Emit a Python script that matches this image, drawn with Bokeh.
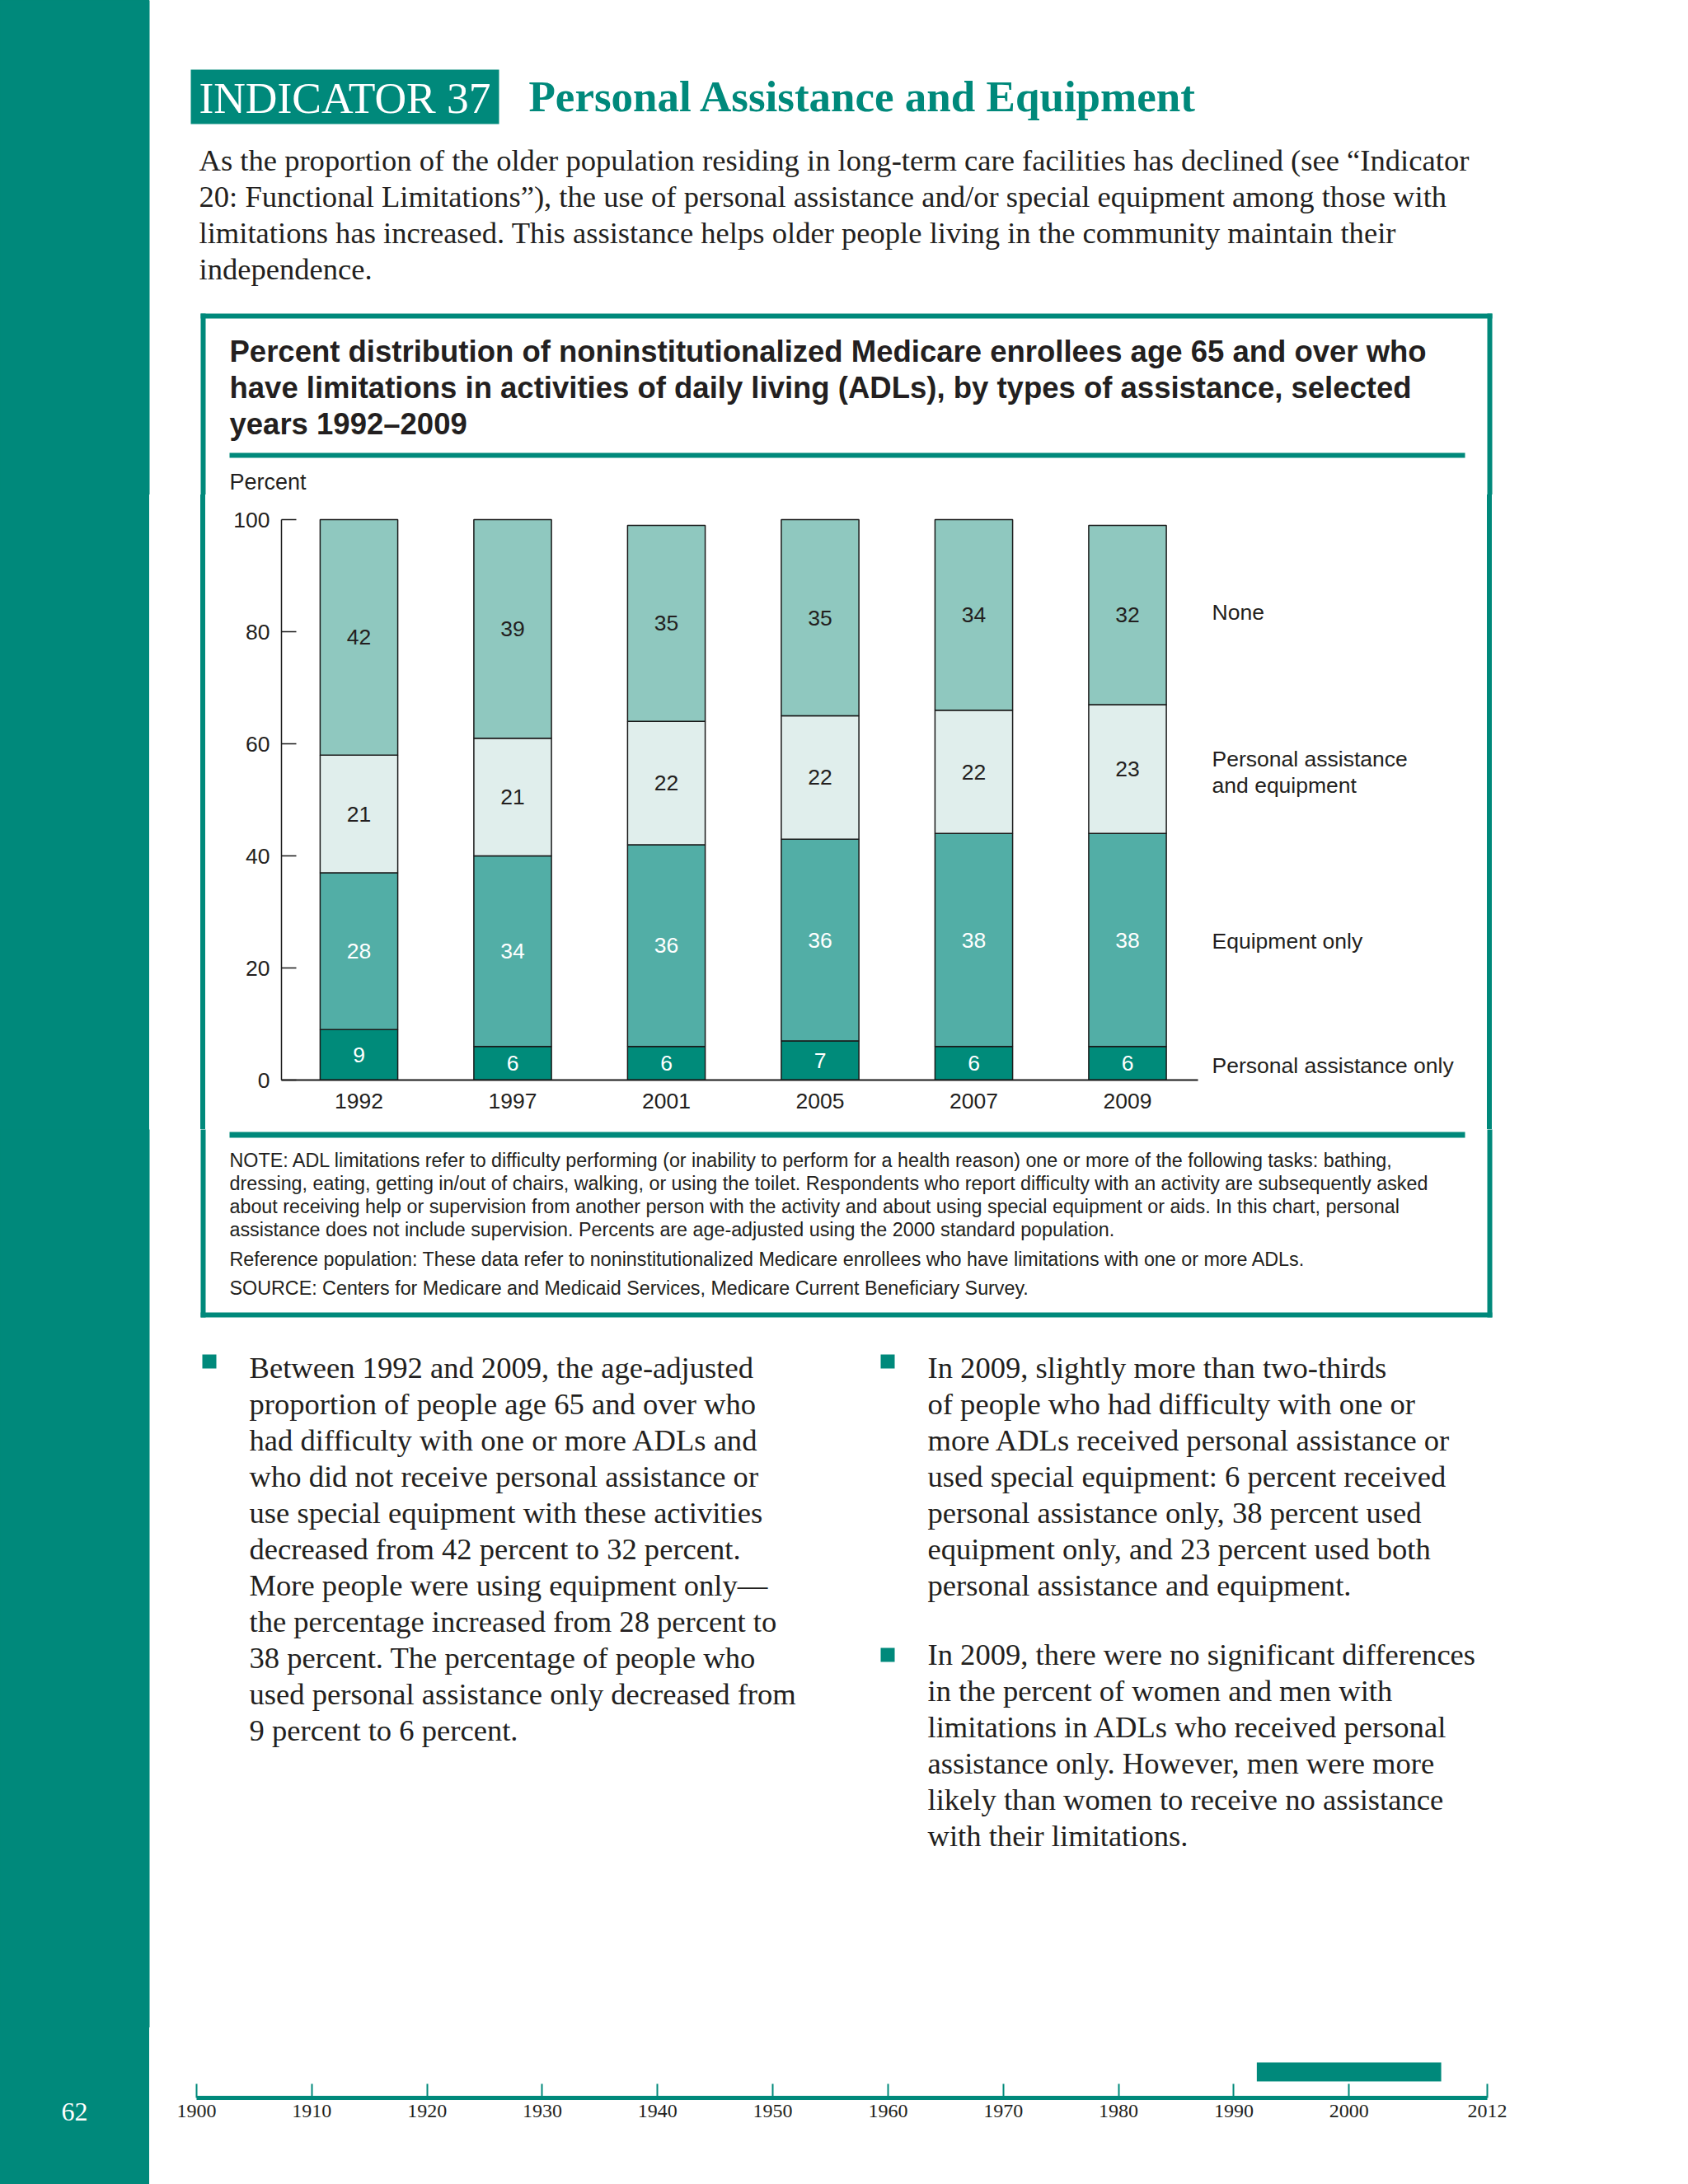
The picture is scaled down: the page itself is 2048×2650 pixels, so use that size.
from bokeh.plotting import figure
from bokeh.models import Range1d, ColumnDataSource, FixedTicker, Div
from bokeh.layouts import column, row
from bokeh.core.properties import value
from bokeh.embed import file_html
from bokeh.resources import INLINE
import numpy as np

# ---------------- data ----------------
years = ["1992", "1997", "2001", "2005", "2007", "2009"]
personal_only = [9, 6, 6, 7, 6, 6]
equipment_only = [28, 34, 36, 36, 38, 38]
both = [21, 21, 22, 22, 22, 23]
none = [42, 39, 35, 35, 34, 32]
series_keys = ["personal_only", "equipment_only", "both", "none"]
series_names = ["Personal assistance only", "Equipment only",
                "Personal assistance\nand equipment", "None"]
y_ticks = [0, 20, 40, 60, 80, 100]

timeline_ticks = [1900, 1910, 1920, 1930, 1940, 1950, 1960, 1970, 1980, 1990, 2000, 2012]
timeline_span = [1992, 2008]

# ---------------- style ----------------
TEAL = "#00897B"
DARK = "#231F20"
SERIF = "Liberation Serif"
SANS = "Liberation Sans"
bar_colors = ["#008B7A", "#52AEA6", "#E0EEEC", "#8FC8BF"]
label_colors = ["white", "white", DARK, DARK]
legend_y = [2.6, 24.8, 54.9, 83.4]   # label positions (percent units)
BAND = f"linear-gradient(to right, {TEAL} 0px, {TEAL} 181px, #ffffff 181px, #ffffff 100%)"


def page_fig(x0, x1, y0, y1):
    p = figure(width=x1 - x0, height=y1 - y0, x_range=Range1d(x0, x1),
               y_range=Range1d(y1, y0), min_border=0, toolbar_location=None,
               output_backend="svg", x_axis_location=None, y_axis_location=None,
               title=None)
    p.grid.visible = False
    p.outline_line_color = None
    p.background_fill_color = None
    p.border_fill_color = None
    return p


def stripe_div(width, height, stripes, inner=""):
    stops = []
    for (a, b) in stripes:
        stops.append(f"#ffffff {a}px, {TEAL} {a}px, {TEAL} {b}px, #ffffff {b}px")
    grad = ("linear-gradient(to right, " + ", ".join(stops) + ")") if stops else "none"
    html = (f'<div style="position:relative;width:{width}px;height:{height}px;'
            f'background:{grad};background-color:#ffffff;margin:0;padding:0">{inner}</div>')
    return Div(text=html, width=width, height=height, margin=(0, 0, 0, 0),
               styles={"background": grad, "background-color": "#ffffff"})


def box(p, l, r, t, b, color=TEAL):
    p.quad(left=[l], right=[r], top=[t], bottom=[b], fill_color=color, line_color=None)


def txt(p, x, y, s, size, font=SERIF, color=DARK, align="left", bold=False):
    p.text(x=[x], y=[y], text=[s], text_font=value(font),
           text_font_size=value(f"{size}px"), text_color=color,
           text_align=align, text_baseline="middle",
           text_font_style="bold" if bold else "normal")


def lines(p, x, y0, dy, items, size, font=SERIF, color=DARK, bold=False):
    for i, s in enumerate(items):
        txt(p, x, y0 + i * dy, s, size, font, color, bold=bold)


# ---------------- top section ----------------
top = page_fig(0, 2048, 0, 600)
box(top, -5, 181, -5, 606)
box(top, 231, 605, 84, 150)
txt(top, 418, 118, "INDICATOR 37", 53.5, color="white", align="center")
txt(top, 641, 116, "Personal Assistance and Equipment", 53, color=TEAL, bold=True)
intro = [
    "As the proportion of the older population residing in long-term care facilities has declined (see \u201cIndicator",
    "20: Functional Limitations\u201d), the use of personal assistance and/or special equipment among those with",
    "limitations has increased. This assistance helps older people living in the community maintain their",
    "independence.",
]
lines(top, 241, 194, 44, intro, 36.6)
box(top, 243, 1810, 380, 386)
box(top, 243, 249, 380, 606)
box(top, 1804, 1810, 380, 606)
chart_title = [
    "Percent distribution of noninstitutionalized Medicare enrollees age 65 and over who",
    "have limitations in activities of daily living (ADLs), by types of assistance, selected",
    "years 1992\u20132009",
]
lines(top, 278, 426, 44, chart_title, 36.5, font=SANS, bold=True)
box(top, 278, 1777, 549, 555)
txt(top, 278, 584, "Percent", 27, font=SANS)

# ---------------- middle: chart ----------------
mid_left = stripe_div(260, 770, [(0, 181), (243, 249)])

x_pos = list(range(len(years)))
X0 = -0.504
UNIT = 186.5
FRAME_W = 1459
chart = figure(width=81 + FRAME_W, height=770, x_range=Range1d(X0, X0 + FRAME_W / UNIT),
               y_range=Range1d(0, 100.6), min_border_left=81, min_border_right=0,
               min_border_top=26, min_border_bottom=60, toolbar_location=None,
               output_backend="svg", title=None)
chart.grid.visible = False
chart.outline_line_color = None
chart.background_fill_color = None
chart.border_fill_color = None
src = ColumnDataSource(dict(x=x_pos, personal_only=personal_only,
                            equipment_only=equipment_only, both=both, none=none))
chart.vbar_stack(series_keys, x="x", width=0.505, color=bar_colors,
                 line_color="#1a1a1a", line_width=1.5, source=src)

cum = np.zeros(len(years))
for key, lc in zip(series_keys, label_colors):
    vals = np.array(src.data[key], dtype=float)
    centers = cum + vals / 2
    cum = cum + vals
    chart.text(x=x_pos, y=list(centers), text=[str(int(v)) for v in vals],
               text_font=value(SANS), text_font_size=value("26.5px"), text_color=lc,
               text_align="center", text_baseline="middle")

for name, ly in zip(series_names, legend_y):
    parts = name.split("\n")
    for j, part in enumerate(parts):
        chart.text(x=[len(years) - 0.45], y=[ly - (j - (len(parts) - 1) / 2) * 4.7], text=[part],
                   text_font=value(SANS), text_font_size=value("26.5px"), text_color=DARK,
                   text_align="left", text_baseline="middle")

yax = chart.yaxis[0]
yax.ticker = FixedTicker(ticks=y_ticks)
yax.bounds = (0, 100)
yax.major_tick_in = 18
yax.major_tick_out = 0
yax.minor_tick_in = 0
yax.minor_tick_out = 0
yax.axis_line_color = "#1a1a1a"
yax.axis_line_width = 1.5
yax.major_tick_line_color = "#1a1a1a"
yax.major_tick_line_width = 1.5
yax.major_label_text_font = SANS
yax.major_label_text_font_size = "26.5px"
yax.major_label_text_color = DARK
yax.major_label_standoff = 14

xax = chart.xaxis[0]
xax.ticker = FixedTicker(ticks=x_pos)
xax.major_label_overrides = {i: y for i, y in zip(x_pos, years)}
xax.bounds = (X0, len(years) - 0.54)
xax.major_tick_in = 0
xax.major_tick_out = 0
xax.minor_tick_in = 0
xax.minor_tick_out = 0
xax.axis_line_color = "#1a1a1a"
xax.axis_line_width = 2
xax.major_label_text_font = SANS
xax.major_label_text_font_size = "26.5px"
xax.major_label_text_color = DARK
xax.major_label_standoff = 16

mid_right = stripe_div(2048 - 1800, 770, [(4, 10)])

# ---------------- bottom section ----------------
bot = page_fig(0, 2048, 1370, 2460)
box(bot, -5, 181, 1364, 2466)
box(bot, 243, 249, 1364, 1598)
box(bot, 1804, 1810, 1364, 1598)
box(bot, 243, 1810, 1592, 1598)
box(bot, 278, 1777, 1373, 1380)
notes = [
    "NOTE: ADL limitations refer to difficulty performing (or inability to perform for a health reason) one or more of the following tasks: bathing,",
    "dressing, eating, getting in/out of chairs, walking, or using the toilet. Respondents who report difficulty with an activity are subsequently asked",
    "about receiving help or supervision from another person with the activity and about using special equipment or aids. In this chart, personal",
    "assistance does not include supervision. Percents are age-adjusted using the 2000 standard population.",
]
lines(bot, 278, 1407, 28.3, notes, 23.3, font=SANS)
txt(bot, 278, 1527, "Reference population: These data refer to noninstitutionalized Medicare enrollees who have limitations with one or more ADLs.", 23.3, font=SANS)
txt(bot, 278, 1562, "SOURCE: Centers for Medicare and Medicaid Services, Medicare Current Beneficiary Survey.", 23.3, font=SANS)

box(bot, 245, 262, 1643, 1660)
box(bot, 1068, 1085, 1643, 1660)
box(bot, 1068, 1085, 1999, 2016)
left_bullet = [
    "Between 1992 and 2009, the age-adjusted",
    "proportion of people age 65 and over who",
    "had difficulty with one or more ADLs and",
    "who did not receive personal assistance or",
    "use special equipment with these activities",
    "decreased from 42 percent to 32 percent.",
    "More people were using equipment only\u2014",
    "the percentage increased from 28 percent to",
    "38 percent. The percentage of people who",
    "used personal assistance only decreased from",
    "9 percent to 6 percent.",
]
right_bullet1 = [
    "In 2009, slightly more than two-thirds",
    "of people who had difficulty with one or",
    "more ADLs received personal assistance or",
    "used special equipment: 6 percent received",
    "personal assistance only, 38 percent used",
    "equipment only, and 23 percent used both",
    "personal assistance and equipment.",
]
right_bullet2 = [
    "In 2009, there were no significant differences",
    "in the percent of women and men with",
    "limitations in ADLs who received personal",
    "assistance only. However, men were more",
    "likely than women to receive no assistance",
    "with their limitations.",
]
lines(bot, 302, 1659, 44, left_bullet, 36.6)
lines(bot, 1125, 1659, 44, right_bullet1, 36.6)
lines(bot, 1125, 2007, 44, right_bullet2, 36.6)

# ---------------- timeline ----------------
page_num = ('<div style="position:absolute;left:0px;top:84px;width:181px;text-align:center;'
            'color:#ffffff;font-family:\'Liberation Serif\';font-size:32px;line-height:36px">62</div>')
tl_left = stripe_div(190, 190, [(0, 181)], inner=page_num)

tl = figure(width=1710, height=190, x_range=Range1d(1900, 2012), y_range=Range1d(0, 1),
            min_border_left=48, min_border_right=96, min_border_top=0, min_border_bottom=105,
            y_axis_location=None, toolbar_location=None, output_backend="svg", title=None)
tl.grid.visible = False
tl.outline_line_color = None
tl.background_fill_color = None
tl.border_fill_color = None
tl.quad(left=[timeline_span[0]], right=[timeline_span[1]], bottom=[0.235], top=[0.506],
        fill_color=TEAL, line_color=None)
tax = tl.xaxis[0]
tax.ticker = FixedTicker(ticks=timeline_ticks)
tax.bounds = (1900, 2012)
tax.axis_line_color = TEAL
tax.axis_line_width = 5
tax.major_tick_line_color = TEAL
tax.major_tick_line_width = 2
tax.major_tick_in = 17
tax.major_tick_out = 0
tax.minor_tick_in = 0
tax.minor_tick_out = 0
tax.major_label_text_font = SERIF
tax.major_label_text_font_size = "24px"
tax.major_label_text_color = DARK
tax.major_label_standoff = 8

tl_right = stripe_div(148, 190, [])

layout = column(top, row(mid_left, chart, mid_right), bot, row(tl_left, tl, tl_right),
                styles={"background": BAND})

open("out.html", "w").write(file_html(layout, INLINE))
